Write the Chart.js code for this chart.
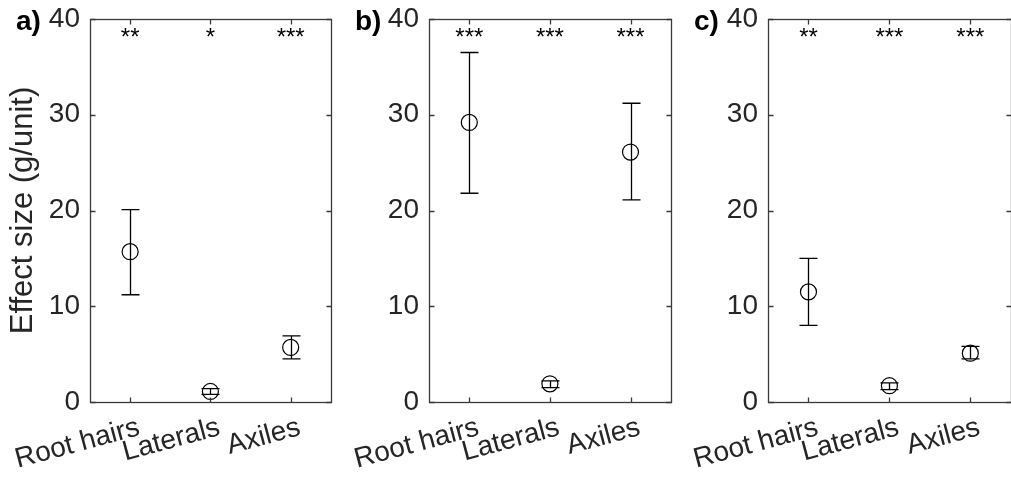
<!DOCTYPE html>
<html>
<head>
<meta charset="utf-8">
<script src="https://cdn.jsdelivr.net/npm/chart.js@4.4.1/dist/chart.umd.min.js"></script>
<style>
html, body { margin: 0; padding: 0; background: #fff; width: 1011px; height: 486px; overflow: hidden; }
.panel { position: absolute; top: 0; width: 340px; height: 486px; }
</style>
</head>
<body>
<div class="panel" style="left:0px"><canvas id="panelA" width="340" height="486"></canvas></div>
<div class="panel" style="left:340px"><canvas id="panelB" width="340" height="486"></canvas></div>
<div class="panel" style="left:680px"><canvas id="panelC" width="340" height="486"></canvas></div>
<script>
const categories = ['Root hairs', 'Laterals', 'Axiles'];
const yTicks = [0, 10, 20, 30, 40];
const panelLabels = ['a)', 'b)', 'c)'];

// mean effect size and error bar ends, one set per panel
const meanA = [15.7, 1.1, 5.7];
const lowA  = [11.2, 0.8, 4.5];
const highA = [20.1, 1.4, 6.9];
const starsA = ['**', '*', '***'];

const meanB = [29.2, 1.9, 26.1];
const lowB  = [21.8, 1.5, 21.1];
const highB = [36.5, 2.2, 31.2];
const starsB = ['***', '***', '***'];

const meanC = [11.5, 1.7, 5.1];
const lowC  = [8.0, 1.3, 4.5];
const highC = [15.0, 2.0, 5.8];
const starsC = ['**', '***', '***'];

const starLevel = 37.3;   // y value of the stars' baseline

const axisColor = '#262626';
const fontName = '"Liberation Sans", Arial, sans-serif';

const panelPlugin = {
    id: 'panelExtras',
    beforeDatasetsDraw(chart, args, opts) {
        const ctx = chart.ctx;
        const x = chart.scales.x, y = chart.scales.y;
        ctx.save();
        ctx.strokeStyle = '#000';
        ctx.lineWidth = 1.3;
        opts.low.forEach((lo, i) => {
            const px = Math.round(x.getPixelForValue(i + 1)) + 0.5;
            const y1 = y.getPixelForValue(lo);
            const y2 = y.getPixelForValue(opts.high[i]);
            ctx.beginPath();
            ctx.moveTo(px, y1); ctx.lineTo(px, y2);
            ctx.moveTo(px - 9, y1); ctx.lineTo(px + 9, y1);
            ctx.moveTo(px - 9, y2); ctx.lineTo(px + 9, y2);
            ctx.stroke();
        });
        ctx.restore();
    },
    afterDraw(chart, args, opts) {
        const ctx = chart.ctx;
        const a = chart.chartArea;
        const x = chart.scales.x, y = chart.scales.y;
        const l = Math.round(a.left) + 0.5, r = Math.round(a.right) + 0.5;
        const t = Math.round(a.top) + 0.5, b = Math.round(a.bottom) + 0.5;
        ctx.save();
        // box
        ctx.strokeStyle = '#3a3a3a';
        ctx.lineWidth = 1.3;
        ctx.strokeRect(l, t, r - l, b - t);
        // inward ticks
        ctx.beginPath();
        yTicks.forEach(v => {
            const py = Math.round(y.getPixelForValue(v)) + 0.5;
            ctx.moveTo(l, py); ctx.lineTo(l + 5, py);
            ctx.moveTo(r, py); ctx.lineTo(r - 5, py);
        });
        categories.forEach((c, i) => {
            const px = Math.round(x.getPixelForValue(i + 1)) + 0.5;
            ctx.moveTo(px, b); ctx.lineTo(px, b - 5);
            ctx.moveTo(px, t); ctx.lineTo(px, t + 5);
        });
        ctx.stroke();
        // significance stars
        ctx.fillStyle = '#000';
        ctx.font = '24px ' + fontName;
        ctx.textAlign = 'center';
        ctx.textBaseline = 'alphabetic';
        opts.stars.forEach((s, i) => {
            ctx.fillText(s, x.getPixelForValue(i + 1), y.getPixelForValue(starLevel));
        });
        // panel letter
        ctx.font = 'bold 28px ' + fontName;
        ctx.textAlign = 'left';
        ctx.fillText(opts.label, a.left - 74, 30);
        ctx.restore();
    }
};

function makePanel(id, mean, low, high, stars, label, axisWidth, rightPad, showTitle) {
    new Chart(document.getElementById(id), {
        type: 'scatter',
        data: {
            datasets: [{
                data: mean.map((v, i) => ({ x: i + 1, y: v })),
                pointRadius: 8,
                pointHoverRadius: 8,
                pointBorderColor: '#000',
                pointBackgroundColor: 'rgba(0,0,0,0)',
                pointBorderWidth: 1.2
            }]
        },
        options: {
            responsive: false,
            animation: false,
            events: [],
            layout: { padding: { top: 19, left: 0, right: rightPad, bottom: 0 } },
            plugins: {
                legend: { display: false },
                tooltip: { enabled: false },
                panelExtras: { low, high, stars, label }
            },
            scales: {
                x: {
                    type: 'linear',
                    min: 0.5,
                    max: 3.5,
                    grid: { display: false, drawTicks: false },
                    border: { display: false },
                    afterBuildTicks: s => { s.ticks = [1, 2, 3].map(v => ({ value: v })); },
                    afterFit: s => { s.height = 84; s.paddingLeft = 0; s.paddingRight = 0; },
                    ticks: {
                        autoSkip: false,
                        minRotation: 15,
                        maxRotation: 15,
                        padding: 9,
                        labelOffset: 9,
                        color: axisColor,
                        font: { family: fontName, size: 28 },
                        callback: v => categories[v - 1]
                    }
                },
                y: {
                    min: 0,
                    max: 40,
                    grid: { display: false, drawTicks: false },
                    border: { display: false },
                    afterBuildTicks: s => { s.ticks = yTicks.map(v => ({ value: v })); },
                    afterFit: s => { s.width = axisWidth; s.paddingTop = 0; s.paddingBottom = 0; },
                    ticks: {
                        padding: 10,
                        color: axisColor,
                        font: { family: fontName, size: 28 }
                    },
                    title: {
                        display: showTitle,
                        text: 'Effect size (g/unit)',
                        color: axisColor,
                        font: { family: fontName, size: 31 },
                        padding: { top: 5, bottom: 0 }
                    }
                }
            }
        },
        plugins: [panelPlugin]
    });
}

makePanel('panelA', meanA, lowA, highA, starsA, panelLabels[0], 90, 3, true);
makePanel('panelB', meanB, lowB, highB, starsB, panelLabels[1], 89, 4, false);
makePanel('panelC', meanC, lowC, highC, starsC, panelLabels[2], 88, 5, false);
</script>
</body>
</html>
